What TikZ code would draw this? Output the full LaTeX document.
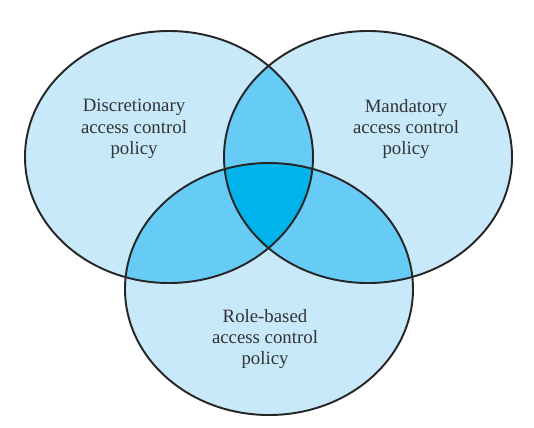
\documentclass[tikz,border=0pt]{standalone}
\usepackage{fontspec}
\setmainfont{Liberation Serif}
\definecolor{setlight}{RGB}{199,233,250}
\definecolor{setmid}{RGB}{102,204,245}
\definecolor{setdark}{RGB}{0,180,235}

\begin{document}
\begin{tikzpicture}[x=0.02cm, y=-0.02cm,
  rim/.style={draw=black!85, line width=1.1pt},
  policytext/.style={align=center, text=black!80, font=\rmfamily\fontsize{10.7}{12.2}\selectfont}]
\useasboundingbox (0,0) rectangle (534,427);
\fill[setlight] (169,157) ellipse [x radius=144, y radius=126];
\fill[setlight] (368,157) ellipse [x radius=144, y radius=126];
\fill[setlight] (269,289) ellipse [x radius=144, y radius=126];
% pairwise overlaps
\begin{scope}
\clip (169,157) ellipse [x radius=144, y radius=126];
\fill[setmid] (368,157) ellipse [x radius=144, y radius=126];
\fill[setmid] (269,289) ellipse [x radius=144, y radius=126];
\end{scope}
\begin{scope}
\clip (368,157) ellipse [x radius=144, y radius=126];
\fill[setmid] (269,289) ellipse [x radius=144, y radius=126];
\end{scope}
% all three
\begin{scope}
\clip (169,157) ellipse [x radius=144, y radius=126];
\clip (368,157) ellipse [x radius=144, y radius=126];
\fill[setdark] (269,289) ellipse [x radius=144, y radius=126];
\end{scope}
\draw[rim] (169,157) ellipse [x radius=144, y radius=126];
\draw[rim] (368,157) ellipse [x radius=144, y radius=126];
\draw[rim] (269,289) ellipse [x radius=144, y radius=126];
\node[policytext] (dac) at (134,129) {Discretionary\\access control\\policy};
\node[policytext] (mac) at (406,129) {Mandatory\\access control\\policy};
\node[policytext] (rbac) at (265,339) {Role-based\\access control\\policy};
\end{tikzpicture}
\end{document}
